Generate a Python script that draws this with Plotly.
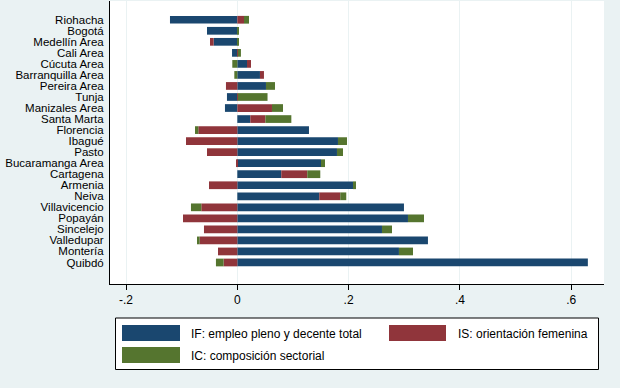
import plotly.graph_objects as go

cities = ["Riohacha", "Bogotá", "Medellín Area", "Cali Area", "Cúcuta Area",
          "Barranquilla Area", "Pereira Area", "Tunja", "Manizales Area",
          "Santa Marta", "Florencia", "Ibagué", "Pasto", "Bucaramanga Area",
          "Cartagena", "Armenia", "Neiva", "Villavicencio", "Popayán",
          "Sincelejo", "Valledupar", "Montería", "Quibdó"]

IF_vals = [-0.121, -0.0545, -0.0425, -0.0095, 0.0174, 0.0407, 0.0515, -0.0186,
           -0.0222, 0.0234, 0.1288, 0.1809, 0.1791, 0.1504, 0.079, 0.2079,
           0.1473, 0.2995, 0.3067, 0.260, 0.3426, 0.2905, 0.630]
IS_vals = [0.012, 0.0, -0.0066, 0.001, 0.0072, 0.0072, -0.0204, 0.001,
           0.0623, 0.027, -0.0701, -0.0922, -0.0545, -0.0024, 0.0467, -0.0509,
           0.0377, -0.0647, -0.0976, -0.0599, -0.0677, -0.0347, -0.0246]
IC_vals = [0.009, 0.003, 0.003, 0.0055, -0.009, -0.0054, 0.0162, 0.0533,
           0.0198, 0.0467, -0.006, 0.0162, 0.0108, 0.0072, 0.0234, 0.0054,
           0.0108, -0.0186, 0.0288, 0.018, -0.0048, 0.0252, -0.0138]

series_names = ["IF: empleo pleno y decente total", "IS: orientación femenina",
                "IC: composición sectorial"]
colors = ["#1a476f", "#90353b", "#55752f"]
x_ticks = [-0.2, 0, 0.2, 0.4, 0.6]
x_ticklabels = ["-.2", "0", ".2", ".4", ".6"]

BG = "#eaf2f3"
FONT = "Liberation Sans, Arial, sans-serif"

fig = go.Figure()
for vals, name, col in zip([IF_vals, IS_vals, IC_vals], series_names, colors):
    fig.add_trace(go.Bar(y=cities, x=vals, orientation="h", name=name,
                         marker=dict(color=col, line=dict(width=0)),
                         showlegend=False))

W, H = 620, 388
L, R, T, B = 110, 16, 1, 104
pw, ph = W - L - R, H - T - B

fig.update_layout(
    width=W, height=H,
    margin=dict(l=L, r=R, t=T, b=B, pad=0, autoexpand=False),
    paper_bgcolor=BG, plot_bgcolor="white",
    barmode="relative", bargap=0.30,
    font=dict(family=FONT, size=12, color="black"),
    xaxis=dict(range=[-0.2288, 0.659], tickmode="array", tickvals=x_ticks,
               ticktext=x_ticklabels, automargin=False,
               showgrid=True, gridcolor=BG, gridwidth=1, zeroline=False,
               showline=True, linecolor="black", linewidth=1,
               ticks="outside", ticklen=5, tickcolor="black",
               tickfont=dict(size=12, family=FONT)),
    yaxis=dict(type="category", categoryorder="array", categoryarray=cities,
               tickmode="array", tickvals=cities, automargin=False,
               range=[23.95, -1.70], showgrid=False, zeroline=False,
               showline=True, linecolor="black", linewidth=1,
               ticks="", ticklabelstandoff=3,
               tickfont=dict(size=11.5, family=FONT)),
)

def px2paper(x, y):
    return (x - L) / pw, (H - B - y) / ph

shapes = []
annots = []
x0, y0 = px2paper(115.5, 318)
x1, y1 = px2paper(598.5, 369.5)
shapes.append(dict(type="rect", xref="paper", yref="paper", x0=x0, y0=y1, x1=x1, y1=y0,
                   line=dict(color="black", width=1), fillcolor="white", layer="above"))
legend_items = [
    (122, 325, 180, 341, 188.5, 333.5),
    (389, 325, 446, 341, 455.5, 333.5),
    (122, 347, 180, 363, 188.5, 355.5),
]
for (sx0, sy0, sx1, sy1, tx, ty), name, col in zip(legend_items, series_names, colors):
    a0, b0 = px2paper(sx0, sy0)
    a1, b1 = px2paper(sx1, sy1)
    shapes.append(dict(type="rect", xref="paper", yref="paper", x0=a0, y0=b1, x1=a1, y1=b0,
                       line=dict(width=0), fillcolor=col, layer="above"))
    ax, ay = px2paper(tx, ty)
    annots.append(dict(xref="paper", yref="paper", x=ax, y=ay, text=name, showarrow=False,
                       xanchor="left", yanchor="middle",
                       font=dict(size=12, family=FONT, color="black")))

fig.update_layout(shapes=shapes, annotations=annots)
fig.write_html("out.html", config={"displayModeBar": False},
               post_script="document.body.style.margin='0';document.body.style.overflow='hidden';")
